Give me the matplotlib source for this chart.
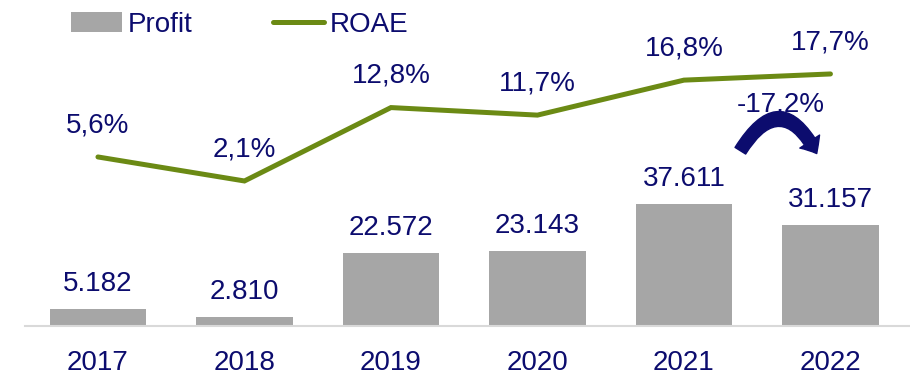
import matplotlib.pyplot as plt
from matplotlib.patches import FancyArrowPatch

plt.rcParams['font.family'] = ['Liberation Sans', 'DejaVu Sans']

years = ["2017", "2018", "2019", "2020", "2021", "2022"]
profit = [5.182, 2.810, 22.572, 23.143, 37.611, 31.157]
roae = [5.6, 2.1, 12.8, 11.7, 16.8, 17.7]
profit_labels = ["5.182", "2.810", "22.572", "23.143", "37.611", "31.157"]
roae_labels = ["5,6%", "2,1%", "12,8%", "11,7%", "16,8%", "17,7%"]
change_label = "-17,2%"

navy = "#0C0C6E"
grey = "#A6A6A6"
olive = "#6B8A14"

fig = plt.figure(figsize=(9.1, 3.77), dpi=100)
ax = fig.add_axes([25 / 910, 51 / 377, 885 / 910, 326 / 377])
x = list(range(len(years)))

bars = ax.bar(x, profit, width=0.66, color=grey, label="Profit", zorder=2)
ax.set_xlim(-0.498, 5.543)
ax.set_ylim(0, 100.3)
for xi, v, lab in zip(x, profit, profit_labels):
    ax.annotate(lab, (xi, v), xytext=(0, 8.5), textcoords="offset points",
                ha="center", va="bottom", fontsize=20, color=navy)

for s in ["top", "left", "right"]:
    ax.spines[s].set_visible(False)
ax.spines["bottom"].set_color("#D9D9D9")
ax.spines["bottom"].set_linewidth(1.5)
ax.set_yticks([])
ax.set_xticks(x)
ax.set_xticklabels(years, fontsize=20, color=navy)
ax.tick_params(axis="x", length=0, pad=17.5)

ax2 = ax.twinx()
ax2.set_ylim(-19.04, 28.48)
line, = ax2.plot(x, roae, color=olive, lw=3.6, solid_capstyle="round",
                 solid_joinstyle="miter", label="ROAE", zorder=3)
ax2.axis("off")
for xi, v, lab in zip(x, roae, roae_labels):
    ax2.annotate(lab, (xi, v), xytext=(0, 13.5), textcoords="offset points",
                 ha="center", va="bottom", fontsize=20, color=navy)

# curved arrow showing profit change 2021 -> 2022
arrow = FancyArrowPatch((4.375, 53.2), (4.915, 52.3),
                        connectionstyle="arc3,rad=-0.9",
                        arrowstyle="simple,head_width=17,head_length=10,tail_width=9",
                        mutation_scale=1, color=navy, zorder=4)
ax.add_patch(arrow)
ax.text(4.66, 68, change_label, ha="center", va="center", fontsize=20,
        color=navy, zorder=5)

fig.legend([bars, line], ["Profit", "ROAE"], loc="upper left",
           bbox_to_anchor=(68 / 910, 0.976), ncol=2, frameon=False,
           fontsize=20, labelcolor=navy, handlelength=1.85, handletextpad=0.2,
           columnspacing=2.9, borderaxespad=0.0, borderpad=0.1)

fig.savefig("out.png", dpi=100)
